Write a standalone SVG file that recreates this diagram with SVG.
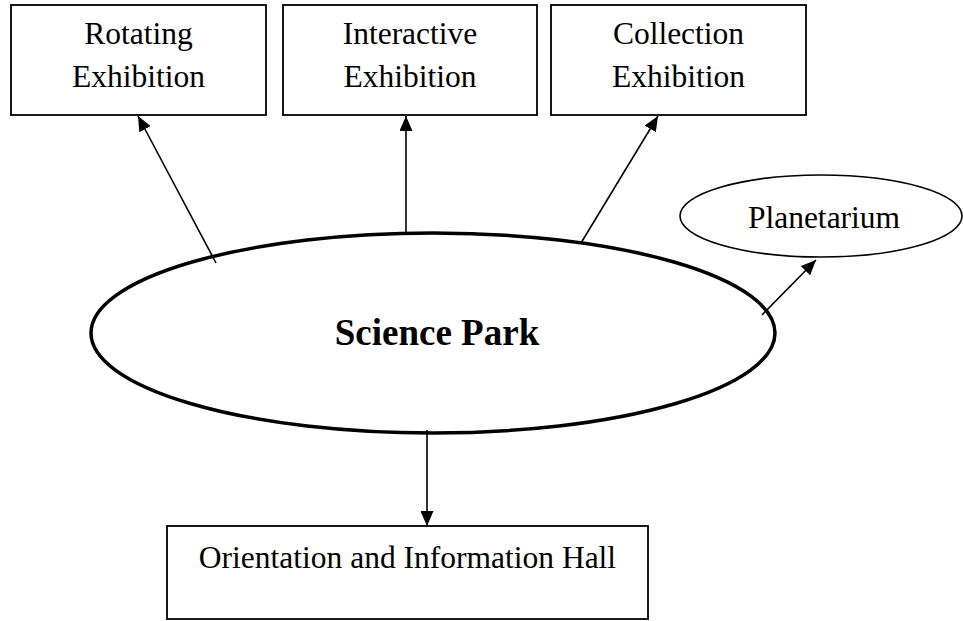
<svg xmlns="http://www.w3.org/2000/svg" width="963" height="621" viewBox="0 0 963 621">
<style>
.box{fill:#fff;stroke:#000;stroke-width:1.8}
.lbl{font-family:"Liberation Serif","Times New Roman",serif;font-size:31.5px;fill:#000;text-anchor:middle}
.conn{stroke:#000;stroke-width:1.6;fill:none;marker-end:url(#ah)}
</style>
<defs>
<marker id="ah" viewBox="0 0 15 13" refX="15" refY="6.5" markerWidth="15" markerHeight="13" markerUnits="userSpaceOnUse" orient="auto">
<path d="M0,0 L15,6.5 L0,13 z" fill="#000"/>
</marker>
</defs>
<rect width="963" height="621" fill="#fff"/>
<g id="rotating">
<rect class="box" x="11" y="5" width="255" height="110"/>
<text class="lbl" x="138.5" y="44">Rotating</text>
<text class="lbl" x="138.5" y="87">Exhibition</text>
</g>
<g id="interactive">
<rect class="box" x="283" y="5" width="254" height="110"/>
<text class="lbl" x="410" y="44">Interactive</text>
<text class="lbl" x="410" y="87">Exhibition</text>
</g>
<g id="collection">
<rect class="box" x="551" y="5" width="255" height="110"/>
<text class="lbl" x="678.5" y="44">Collection</text>
<text class="lbl" x="678.5" y="87">Exhibition</text>
</g>
<g id="planetarium">
<ellipse cx="821" cy="216" rx="141" ry="41" fill="#fff" stroke="#000" stroke-width="1.6"/>
<text class="lbl" x="824" y="228">Planetarium</text>
</g>
<g id="science-park">
<ellipse cx="433" cy="333" rx="342" ry="100" fill="#fff" stroke="#000" stroke-width="3.5"/>
<text x="437" y="345" font-family="'Liberation Serif','Times New Roman',serif" font-size="37" font-weight="bold" text-anchor="middle" fill="#000">Science Park</text>
</g>
<g id="orientation">
<rect class="box" x="167" y="526" width="481" height="93"/>
<text class="lbl" x="407.5" y="568" font-size="32">Orientation and Information Hall</text>
</g>
<g id="connectors">
<line class="conn" x1="216" y1="263" x2="138" y2="116"/>
<line class="conn" x1="406" y1="233" x2="406" y2="116"/>
<line class="conn" x1="581" y1="243" x2="658" y2="116"/>
<line class="conn" x1="762" y1="315" x2="816" y2="260"/>
<line class="conn" x1="427" y1="430" x2="427" y2="526"/>
</g>
</svg>
